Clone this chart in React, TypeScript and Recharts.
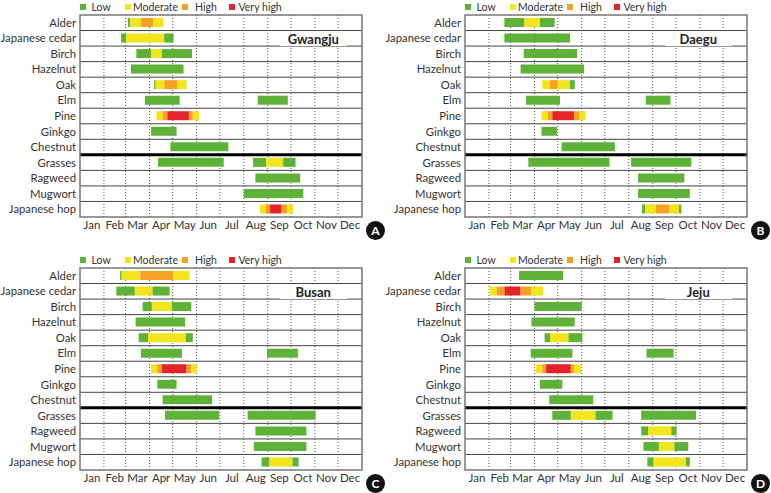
import React from "react";
import {
  BarChart,
  Bar,
  XAxis,
  YAxis,
  Cell,
  ReferenceLine,
  ReferenceArea,
} from "recharts";

type Level = "L" | "M" | "H" | "V";
type Seg = [number, number, Level];

const plants = [
  "Alder",
  "Japanese cedar",
  "Birch",
  "Hazelnut",
  "Oak",
  "Elm",
  "Pine",
  "Ginkgo",
  "Chestnut",
  "Grasses",
  "Ragweed",
  "Mugwort",
  "Japanese hop",
];

const months = ["Jan", "Feb", "Mar", "Apr", "May", "Jun", "Jul", "Aug", "Sep", "Oct", "Nov", "Dec"];
// day of year where each month starts (plus year end)
const monthStarts = [0, 31, 59, 90, 120, 151, 181, 212, 243, 273, 304, 334, 365];

const levelNames = ["Low", "Moderate", "High", "Very high"];
const levelKeys: Level[] = ["L", "M", "H", "V"];
const levelColors: Record<string, string> = {
  L: "#5db237",
  M: "#f3e51c",
  H: "#f5a125",
  V: "#e4242b",
  gap: "transparent",
};

// pollen seasons, [start day, end day, level]
const gwangju: Seg[][] = [
  [[62, 65, "L"], [65, 79, "M"], [79, 95, "H"], [95, 108, "M"]],
  [[53, 60, "L"], [60, 109, "M"], [109, 121, "L"]],
  [[73, 92, "L"], [92, 106, "M"], [106, 145, "L"]],
  [[66, 134, "L"]],
  [[96, 98, "L"], [98, 109, "M"], [109, 126, "H"], [126, 138, "M"]],
  [[84, 129, "L"], [230, 269, "L"]],
  [[99, 107, "M"], [107, 113, "H"], [113, 141, "V"], [141, 146, "H"], [146, 154, "M"]],
  [[92, 125, "L"]],
  [[117, 192, "L"]],
  [[101, 186, "L"], [224, 241, "L"], [241, 263, "M"], [263, 279, "L"]],
  [[227, 285, "L"]],
  [[212, 289, "L"]],
  [[233, 240, "M"], [240, 246, "H"], [246, 261, "V"], [261, 268, "H"], [268, 276, "M"]],
];

const daegu: Seg[][] = [
  [[51, 77, "L"], [77, 97, "M"], [97, 116, "L"]],
  [[51, 136, "L"]],
  [[76, 145, "L"]],
  [[72, 154, "L"]],
  [[100, 110, "M"], [110, 120, "H"], [120, 136, "M"], [136, 142, "L"]],
  [[79, 123, "L"], [234, 266, "L"]],
  [[99, 107, "M"], [107, 113, "H"], [113, 141, "V"], [141, 148, "H"], [148, 156, "M"]],
  [[99, 119, "L"]],
  [[125, 194, "L"]],
  [[82, 187, "L"], [215, 293, "L"]],
  [[224, 284, "L"]],
  [[224, 291, "L"]],
  [[229, 233, "L"], [233, 247, "M"], [247, 264, "H"], [264, 277, "M"], [277, 280, "L"]],
];

const busan: Seg[][] = [
  [[52, 54, "L"], [54, 78, "M"], [78, 121, "H"], [121, 142, "M"]],
  [[47, 71, "L"], [71, 94, "M"], [94, 116, "L"]],
  [[81, 93, "L"], [93, 119, "M"], [119, 144, "L"]],
  [[72, 136, "L"]],
  [[76, 88, "L"], [88, 137, "M"], [137, 146, "L"]],
  [[79, 132, "L"], [242, 282, "L"]],
  [[92, 100, "M"], [100, 106, "H"], [106, 138, "V"], [138, 144, "H"], [144, 151, "M"]],
  [[100, 125, "L"]],
  [[107, 171, "L"]],
  [[110, 180, "L"], [217, 305, "L"]],
  [[227, 293, "L"]],
  [[225, 293, "L"]],
  [[235, 245, "L"], [245, 275, "M"], [275, 283, "L"]],
];

const jeju: Seg[][] = [
  [[70, 127, "L"]],
  [[32, 41, "M"], [41, 51, "H"], [51, 72, "V"], [72, 86, "H"], [86, 101, "M"]],
  [[90, 151, "L"]],
  [[86, 142, "L"]],
  [[103, 110, "L"], [110, 134, "M"], [134, 152, "L"]],
  [[85, 139, "L"], [235, 270, "L"]],
  [[92, 100, "M"], [100, 105, "H"], [105, 137, "V"], [137, 141, "H"], [141, 150, "M"]],
  [[97, 126, "L"]],
  [[109, 166, "L"]],
  [[113, 137, "L"], [137, 169, "M"], [169, 191, "L"], [228, 299, "L"]],
  [[228, 237, "L"], [237, 267, "M"], [267, 274, "L"]],
  [[231, 251, "L"], [251, 271, "M"], [271, 289, "L"]],
  [[236, 244, "L"], [244, 286, "M"], [286, 291, "L"]],
];

const monthMids = months.map((_, i) => (monthStarts[i] + monthStarts[i + 1]) / 2);

// turn segments into stacked lengths with transparent gaps
function buildRows(segs: Seg[][]) {
  const rows = plants.map((name, i) => {
    const row: any = { name };
    let pos = 0;
    let k = 0;
    segs[i].forEach(([s, e, lv]) => {
      if (s > pos) {
        row[`s${k}`] = s - pos;
        row[`c${k}`] = "gap";
        k++;
      }
      row[`s${k}`] = e - s;
      row[`c${k}`] = lv;
      k++;
      pos = e;
    });
    row.n = k;
    return row;
  });
  const n = Math.max(...rows.map((r) => r.n));
  rows.forEach((r) => {
    for (let k = 0; k < n; k++) {
      if (r[`s${k}`] === undefined) {
        r[`s${k}`] = 0;
        r[`c${k}`] = "gap";
      }
    }
  });
  return { rows, n };
}

const legendPos = [
  { sq: 80, tx: 91.5 },
  { sq: 125, tx: 133 },
  { sq: 182, tx: 195 },
  { sq: 229, tx: 238.5 },
];

const renderPlantTick = ({ x, y, payload }: any) => (
  <text x={x} y={y} dy={4} textAnchor="end" fill="#333" fontSize={11.3}>
    {payload.value}
  </text>
);

function Panel({
  city,
  letter,
  segs,
  left,
  top,
}: {
  city: string;
  letter: string;
  segs: Seg[][];
  left: number;
  top: number;
}) {
  const { rows, n } = buildRows(segs);
  return (
    <div style={{ position: "absolute", left, top, width: 385, height: 240 }}>
      <BarChart
        width={385}
        height={240}
        data={rows}
        layout="vertical"
        margin={{ top: 15, right: 23, bottom: 1, left: 0 }}
        barSize={9}
      >
        {monthStarts.slice(1, -1).map((d) => (
          <ReferenceLine
            key={d}
            x={d}
            stroke="#555"
            strokeDasharray="1 2"
            strokeWidth={1}
            zIndex={-10}
          />
        ))}
        <XAxis
          type="number"
          domain={[0, 365]}
          ticks={monthMids}
          interval={0}
          tickFormatter={(v: number) => months[monthMids.indexOf(v)]}
          axisLine={false}
          tickLine={false}
          tickSize={0}
          tickMargin={4}
          height={22}
          tick={{ fill: "#333", fontSize: 11.5 }}
        />
        <YAxis
          type="category"
          dataKey="name"
          width={80}
          interval={0}
          axisLine={false}
          tickLine={false}
          tickSize={0}
          tickMargin={4}
          tick={renderPlantTick}
        />
        {Array.from({ length: n }, (_, k) => (
          <Bar key={k} dataKey={`s${k}`} stackId="a" isAnimationActive={false}>
            {rows.map((r, j) => (
              <Cell key={j} fill={levelColors[r[`c${k}`]]} />
            ))}
          </Bar>
        ))}
        {plants.slice(0, -1).map((p) => (
          <ReferenceArea
            key={p}
            y1={p}
            y2={p}
            x1={0}
            x2={365}
            zIndex={500}
            shape={(props: any) => (
              <line
                x1={props.x}
                x2={props.x + props.width}
                y1={props.y + props.height}
                y2={props.y + props.height}
                stroke={p === "Chestnut" ? "#000" : "#444"}
                strokeWidth={p === "Chestnut" ? 3 : 1}
              />
            )}
          />
        ))}
        <ReferenceArea
          x1={0}
          x2={365}
          fill="none"
          stroke="#777"
          strokeWidth={1.5}
          zIndex={500}
        />
      </BarChart>

      {levelNames.map((name, i) => (
        <React.Fragment key={name}>
          <div
            style={{
              position: "absolute",
              left: legendPos[i].sq,
              top: 4,
              width: 6,
              height: 6,
              background: levelColors[levelKeys[i]],
            }}
          />
          <div
            style={{
              position: "absolute",
              left: legendPos[i].tx,
              top: 0,
              fontSize: 10.5,
              lineHeight: "14px",
              color: "#333",
              whiteSpace: "nowrap",
            }}
          >
            {name}
          </div>
        </React.Fragment>
      ))}

      <div
        style={{
          position: "absolute",
          left: 279.5,
          top: 31.5,
          width: 67.5,
          height: 14,
          background: "#fff",
          textAlign: "center",
          fontSize: 13,
          lineHeight: "14px",
          fontWeight: 700,
          color: "#222",
        }}
      >
        {city}
      </div>

      <div
        style={{
          position: "absolute",
          left: 366,
          top: 220.5,
          width: 19,
          height: 19,
          borderRadius: "50%",
          background: "#111",
          color: "#fff",
          textAlign: "center",
          fontSize: 12,
          lineHeight: "19px",
          fontWeight: 700,
        }}
      >
        {letter}
      </div>
    </div>
  );
}

export default function App() {
  return (
    <div
      style={{
        position: "absolute",
        left: 0,
        top: 0,
        width: 771,
        height: 493,
        background: "#fff",
        fontFamily: "Lato, 'Open Sans', sans-serif",
        overflow: "hidden",
      }}
    >
      <Panel city="Gwangju" letter="A" segs={gwangju} left={0} top={0} />
      <Panel city="Daegu" letter="B" segs={daegu} left={385} top={0} />
      <Panel city="Busan" letter="C" segs={busan} left={0} top={253} />
      <Panel city="Jeju" letter="D" segs={jeju} left={385} top={253} />
    </div>
  );
}
